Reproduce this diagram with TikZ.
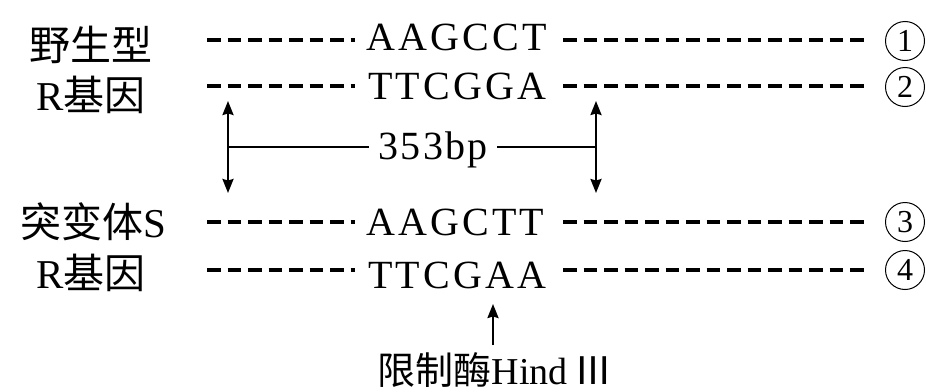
\documentclass[tikz,border=0pt]{standalone}
\usepackage{fontspec}
\setmainfont{Liberation Serif}
\newfontfamily\cjk{Noto Sans CJK SC}
\usetikzlibrary{arrows.meta}
\begin{document}
\begin{tikzpicture}[x=1pt,y=-1pt,
  lab/.style={inner sep=0pt,font=\fontsize{41}{44}\selectfont},
  seq/.style={inner sep=0pt,anchor=base west,font=\fontsize{40}{42}\selectfont\addfontfeature{LetterSpace=8}},
  dna/.style={line width=3.2pt,dash pattern=on 13.5pt off 7pt},
  num/.style={circle,draw,line width=1pt,minimum size=39pt,inner sep=0pt,font=\fontsize{32}{34}\selectfont},
  dbl/.style={line width=2.2pt,{Stealth[length=14pt,width=11pt,inset=1.5pt]}-{Stealth[length=14pt,width=11pt,inset=1.5pt]}},
  sng/.style={line width=2.2pt,-{Stealth[length=14pt,width=11pt,inset=1.5pt]}},
  bar/.style={line width=2.2pt}]
\useasboundingbox (0,0) rectangle (926,391);
% labels
\node[lab] (t1) at (91,45) {{\cjk 野生型}};
\node[lab] (t2) at (91,95) {R{\cjk 基因}};
\node[lab] (t3) at (93,222) {{\cjk 突变体}S};
\node[lab] (t4) at (91,273) {R{\cjk 基因}};
% sequences
\node[seq] (s1) at (366,50) {AAGCCT};
\node[seq] (s2) at (368,99) {TTCGGA};
\node[seq] (s3) at (366,235) {AAGCTT};
\node[seq] (s4) at (368,288) {TTCGAA};
% circled numbers
\node[num] (n1) at (905,41) {1};
\node[num] (n2) at (905,87) {2};
\node[num] (n3) at (905,222) {3};
\node[num] (n4) at (905,270) {4};
% dash ends
\coordinate (a1) at (207,40); \coordinate (b1) at (355,40);
\coordinate (c1) at (563,40); \coordinate (d1) at (866,40);
\coordinate (a2) at (207,86); \coordinate (b2) at (355,86);
\coordinate (c2) at (563,86); \coordinate (d2) at (866,86);
\coordinate (a3) at (207,222); \coordinate (b3) at (355,222);
\coordinate (c3) at (563,222); \coordinate (d3) at (866,222);
\coordinate (a4) at (207,270); \coordinate (b4) at (355,270);
\coordinate (c4) at (563,270); \coordinate (d4) at (866,270);
\foreach \i in {1,2,3,4}{
  \draw[dna] (a\i) -- (b\i);
  \draw[dna] (c\i) -- (d\i);
}
% 353bp
\coordinate (L1) at (228,101); \coordinate (L2) at (228,193);
\coordinate (R1) at (596,101); \coordinate (R2) at (596,193);
\coordinate (Lm) at (228,147); \coordinate (Rm) at (596,147);
\node[inner sep=0pt,font=\fontsize{40}{42}\selectfont\addfontfeature{LetterSpace=6}] (bp) at (433,150) {353bp};
\draw[dbl] (L1) -- (L2);
\draw[dbl] (R1) -- (R2);
\draw[bar] (Lm) -- ([xshift=-9pt]bp.west |- Lm);
\draw[bar] ([xshift=9pt]bp.east |- Rm) -- (Rm);
% bottom
\node[inner sep=0pt,font=\fontsize{38}{40}\selectfont] (hd) at (495,370) {{\cjk 限制酶}Hind\,{\cjk Ⅲ}};
\coordinate (ht) at (493,304);
\coordinate (hb) at (493,345);
\draw[sng] (hb) -- (ht);
\end{tikzpicture}
\end{document}
